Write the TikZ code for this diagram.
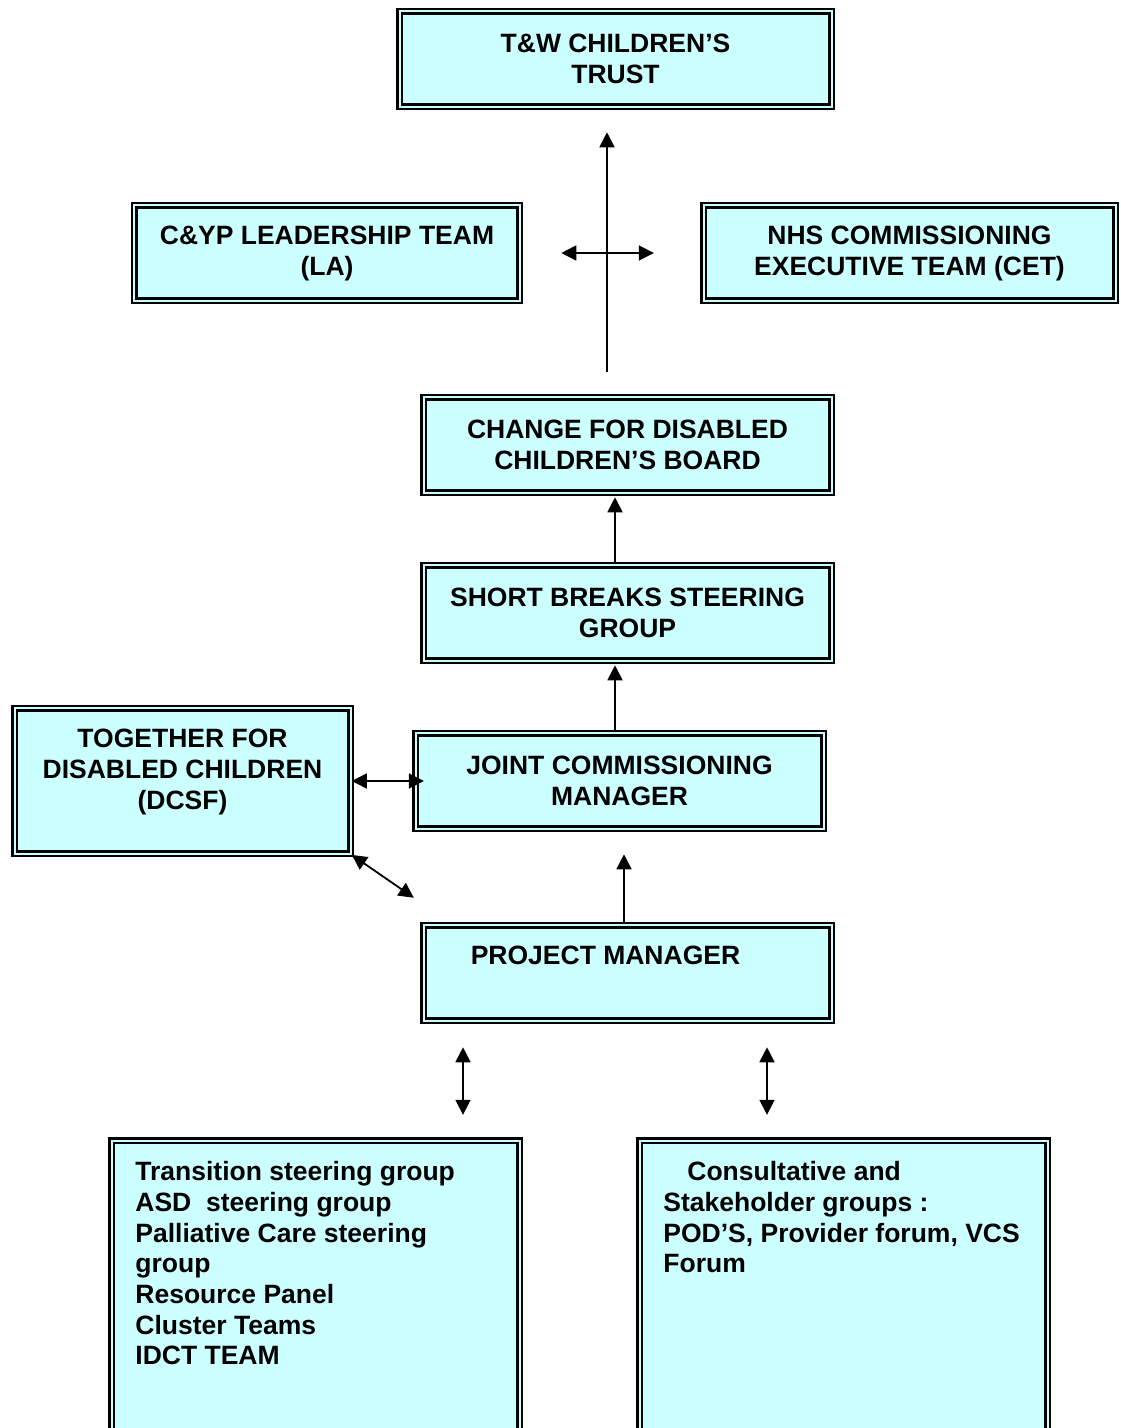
\documentclass[tikz,border=0pt]{standalone}
\usepackage{fontspec}
\setmainfont{Liberation Sans}
\usetikzlibrary{arrows.meta,positioning}
\definecolor{boxcyan}{HTML}{CCFFFF}

\begin{document}
\begin{tikzpicture}[
  x=0.5pt, y=-0.5pt,
  box/.style={draw=black, line width=1.3pt, double=boxcyan, double distance=1.0pt,
              fill=boxcyan, inner sep=0pt, align=center,
              font=\fontsize{13.25}{15.5}\selectfont\bfseries,
              minimum width=204pt, minimum height=47.6pt},
  grouptext/.style={anchor=north west, inner sep=0pt, align=left,
                    font=\fontsize{13.25}{15.35}\selectfont\bfseries},
  link/.style={line width=0.9pt, -{Triangle[length=7.5pt, width=7.5pt]}},
  twoway/.style={line width=0.9pt,
                 {Triangle[length=7.5pt, width=7.5pt]}-{Triangle[length=7.5pt, width=7.5pt]}},
]
  \clip (0,0) rectangle (1120,1428);

  % --- Top level ---
  \node[box, minimum width=216pt]   (trust) at (615.5,59)  {T\&W CHILDREN’S\\TRUST};
  \node[box, minimum width=192.6pt] (lead)  at (327,253)   {C\&YP LEADERSHIP TEAM\\(LA)};
  \node[box, minimum width=206pt]   (nhs)   at (909.5,253) {NHS COMMISSIONING\\EXECUTIVE TEAM (CET)};

  % --- Boards and managers ---
  \node[box] (board) at (627.5,445) {CHANGE FOR DISABLED\\CHILDREN’S BOARD};
  \node[box] (steer) at (627.5,613) {SHORT BREAKS STEERING\\GROUP};
  \node[box] (jcm)   at (619.5,781) {JOINT COMMISSIONING\\MANAGER};
  \node[box, minimum width=168pt, minimum height=72.6pt] (tfdc) at (182.5,781)
    {TOGETHER FOR\\DISABLED CHILDREN\\(DCSF)\\[-3.5pt]\mbox{}};
  \node[box, text height=9.5pt, text depth=18pt] (pm) at (627.5,973)
    {PROJECT MANAGER\hspace*{22pt}};

  % --- Groups (bottom) ---
  \node[box, minimum height=158pt] (grps)   at (315.5,1298.5) {};
  \node[box, minimum height=158pt] (forums) at (843.5,1298.5) {};
  \node[grouptext] (grpstext) at (135,1161)
    {Transition steering group\\ASD\ \ steering group\\Palliative Care steering\\group\\
     Resource Panel\\Cluster Teams\\IDCT TEAM};
  \node[grouptext] (forumstext) at (663,1161)
    {\hspace*{12pt}Consultative and\\Stakeholder groups :\\POD’S, Provider forum, VCS\\Forum};

  % --- Reporting lines ---
  \draw[link, shorten <=12.2pt, shorten >=12.2pt]
    ([xshift=-10.25pt]board.north) -- ([xshift=-10.25pt]board.north |- trust.south);
  \draw[twoway, shorten <=20.2pt, shorten >=24.2pt] (lead.east) -- (nhs.west);
  \draw[link, shorten >=1.7pt]
    ([xshift=-6.25pt]steer.north) -- ([xshift=-6.25pt]steer.north |- board.south);
  \draw[link, shorten >=1.7pt]
    ([xshift=-2.25pt]jcm.north) -- ([xshift=-2.25pt]jcm.north |- steer.south);
  \draw[link, shorten >=12.2pt]
    ([xshift=-1.75pt]pm.north) -- ([xshift=-1.75pt]pm.north |- jcm.south);
  \draw[twoway, shorten >=-4.8pt] (tfdc.east) -- (tfdc.east -| jcm.west);
  \draw[twoway] (tfdc.south east) -- ([shift={(-4.2pt,13.2pt)}]pm.north west);
  \draw[twoway, shorten <=12.7pt, shorten >=12.2pt]
    ([xshift=73.75pt]grps.north |- pm.south) -- ([xshift=73.75pt]grps.north);
  \draw[twoway, shorten <=12.7pt, shorten >=12.2pt]
    ([xshift=-38.25pt]forums.north |- pm.south) -- ([xshift=-38.25pt]forums.north);
\end{tikzpicture}
\end{document}
